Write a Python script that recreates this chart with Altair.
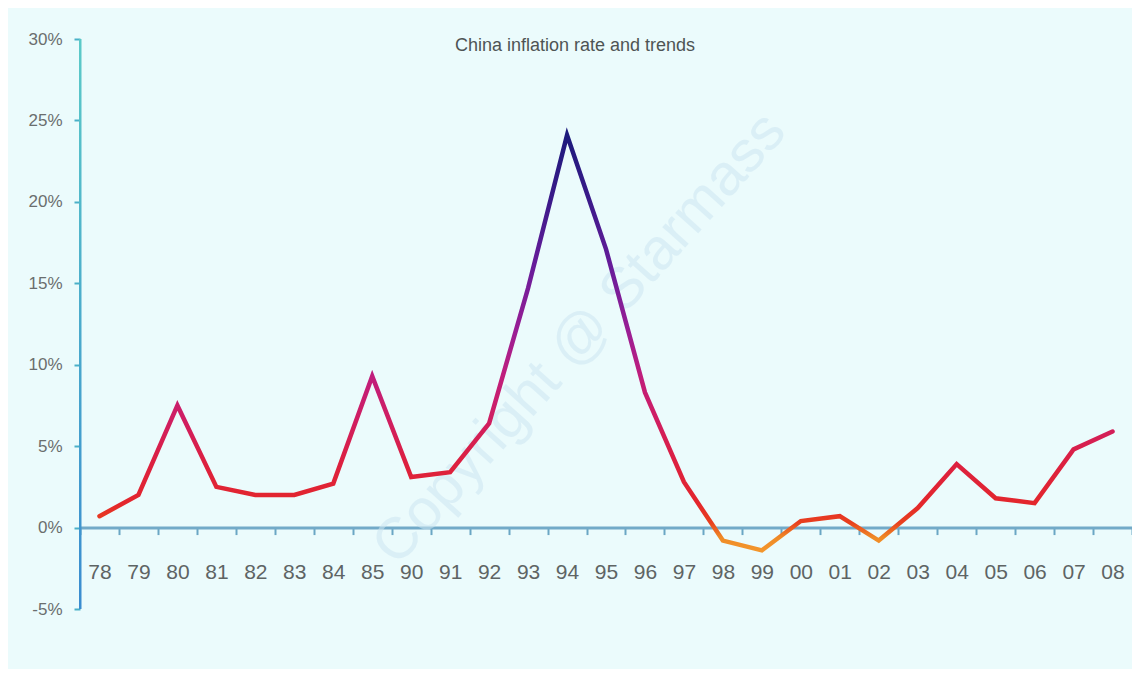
import altair as alt
import pandas as pd

# ---- data ----
years = ["78", "79", "80", "81", "82", "83", "84", "85", "90", "91", "92", "93", "94",
         "95", "96", "97", "98", "99", "00", "01", "02", "03", "04", "05", "06", "07", "08"]
inflation = [0.7, 2.0, 7.5, 2.5, 2.0, 2.0, 2.7, 9.3, 3.1, 3.4, 6.4, 14.7, 24.1,
             17.1, 8.3, 2.8, -0.8, -1.4, 0.4, 0.7, -0.8, 1.2, 3.9, 1.8, 1.5, 4.8, 5.9]
y_ticks = [-5, 0, 5, 10, 15, 20, 25, 30]
title_text = "China inflation rate and trends"
watermark_text = "Copyright @ Starmass"

df = pd.DataFrame({"year": years, "rate": inflation})

W, H = 1052, 570
BG = "#ebfbfc"
Y_DOMAIN = [-5, 30]

# colour ramp of the line, by value
ramp = [(-1.4, "#f3962c"), (-0.6, "#ef8a26"), (0.3, "#e8401e"), (1.5, "#e3262c"),
        (4.0, "#dc2040"), (6.5, "#d01e60"), (9.3, "#c01e7c"), (12.0, "#9a1e94"),
        (16.0, "#681c9a"), (20.0, "#3c1a8a"), (24.1, "#1c1a7c")]
vmin, vmax = min(inflation), max(inflation)
stops = [alt.GradientStop(offset=max(0.0, min(1.0, (v - vmin) / (vmax - vmin))), color=c)
         for v, c in ramp]
line_grad = alt.Gradient(gradient="linear", stops=stops, x1=0, x2=0, y1=1, y2=0)

axis_grad = alt.Gradient(
    gradient="linear",
    stops=[alt.GradientStop(offset=0, color="#5ccac8"),
           alt.GradientStop(offset=1, color="#3a8cd0")],
    x1=0, x2=0, y1=0, y2=1)

x_enc = alt.X(
    "year:N", sort=years,
    scale=alt.Scale(type="band", paddingInner=0, paddingOuter=0),
    axis=alt.Axis(
        title=None, orient="bottom", offset=-H * 5 / 35, labelAngle=0,
        domainColor="#72aac8", domainWidth=3, tickColor="#6aa6c4", tickWidth=2,
        tickSize=7, tickBand="extent", labelFont="Liberation Sans Narrow, Liberation Sans",
        labelFontSize=21, labelColor="#5e6464", labelPadding=27, grid=False))

y_scale = alt.Scale(domain=Y_DOMAIN, nice=False, zero=False)
y_enc = alt.Y(
    "rate:Q", scale=y_scale,
    axis=alt.Axis(
        title=None, values=y_ticks, labelExpr="datum.value + '%'", domain=False,
        tickColor="#4ab0c8", tickSize=6, tickWidth=2, labelPadding=12,
        labelFont="Liberation Sans", labelFontSize=17, labelColor="#6a6e6e", grid=False))

line = alt.Chart(df).mark_line(
    color=line_grad, strokeWidth=4.5, strokeCap="round", strokeJoin="miter"
).encode(x=x_enc, y=y_enc)

yaxis_bar = alt.Chart(pd.DataFrame({"a": [0]})).mark_rect(fill=axis_grad).encode(
    x=alt.value(-1), x2=alt.value(1.5),
    y=alt.datum(Y_DOMAIN[1], scale=y_scale), y2=alt.datum(Y_DOMAIN[0]))

title = alt.Chart(pd.DataFrame({"t": [title_text]})).mark_text(
    font="Liberation Sans", fontSize=18, color="#4e5454", align="center", baseline="middle"
).encode(text="t:N", x=alt.value(495), y=alt.value(7))

watermark = alt.Chart(pd.DataFrame({"t": [watermark_text]})).mark_text(
    font="Liberation Sans", fontSize=58, color="#cde6f2", opacity=0.55,
    align="center", baseline="middle", angle=312
).encode(text="t:N", x=alt.value(500), y=alt.value(300))

chart = alt.layer(watermark, yaxis_bar, line, title).properties(
    width=W, height=H,
    padding={"left": 72, "top": 31, "right": 0, "bottom": 60},
    autosize=alt.AutoSizeParams(type="none"),
    background=BG,
).configure_view(stroke=None)

chart.save("out.html", embed_options={"renderer": "svg", "actions": False})
